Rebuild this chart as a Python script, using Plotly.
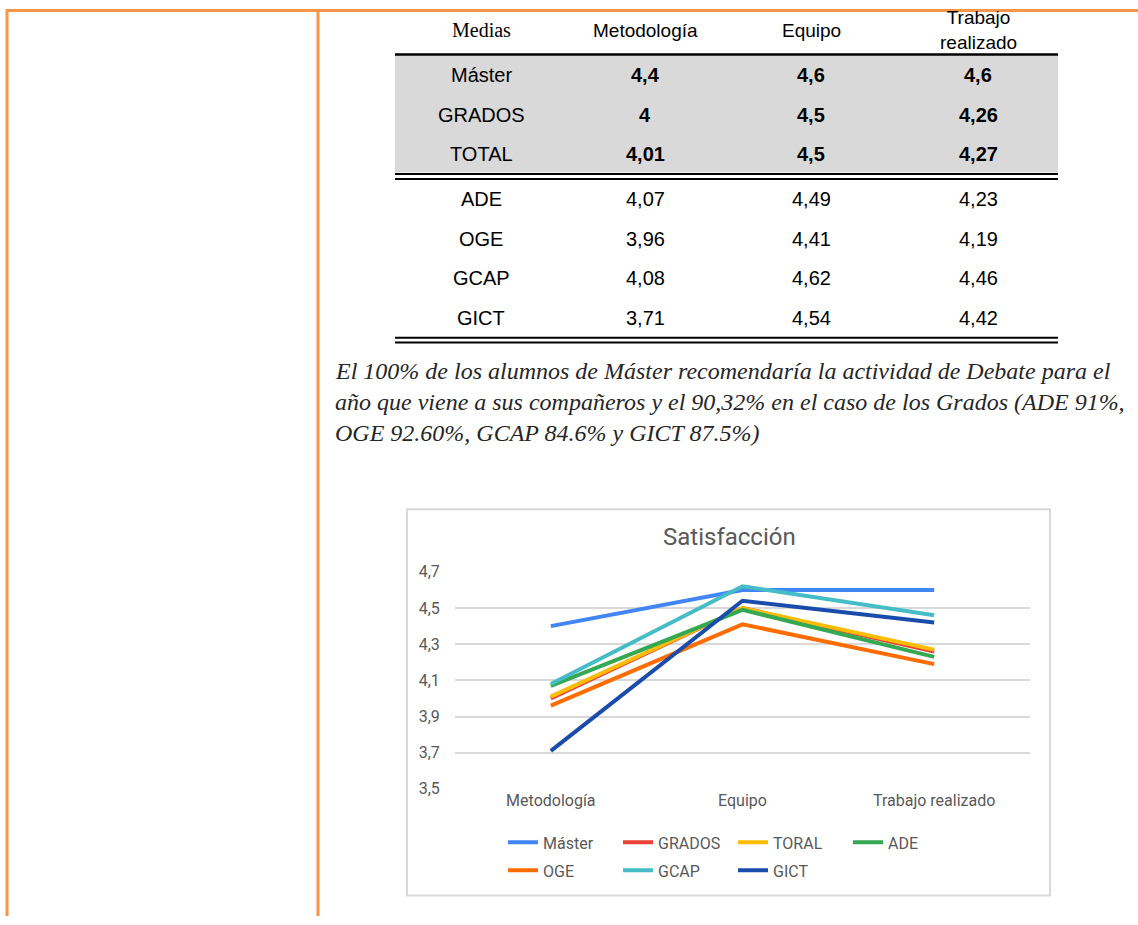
import plotly.graph_objects as go

W, H = 1138, 925

# ---------------- data ----------------
categories = ["Metodología", "Equipo", "Trabajo realizado"]
series_names = ["Máster", "GRADOS", "TORAL", "ADE", "OGE", "GCAP", "GICT"]
master = [4.4, 4.6, 4.6]
grados = [4.0, 4.5, 4.26]
toral = [4.01, 4.5, 4.27]
ade = [4.07, 4.49, 4.23]
oge = [3.96, 4.41, 4.19]
gcap = [4.08, 4.62, 4.46]
gict = [3.71, 4.54, 4.42]
series_values = [master, grados, toral, ade, oge, gcap, gict]
series_colors = ["#4285F4", "#EA4335", "#FBBC04", "#34A853", "#FF6D01", "#46BDC6", "#1A4CAC"]

y_ticks = [3.5, 3.7, 3.9, 4.1, 4.3, 4.5, 4.7]
y_ticktext = ["3,5", "3,7", "3,9", "4,1", "4,3", "4,5", "4,7"]

table_header = ["Medias", "Metodología", "Equipo", "Trabajo<br>realizado"]
summary_labels = ["Máster", "GRADOS", "TOTAL"]
summary_values = [master, grados, toral]
grade_labels = ["ADE", "OGE", "GCAP", "GICT"]
grade_values = [ade, oge, gcap, gict]

paragraph_lines = [
    "El 100% de los alumnos de Máster recomendaría la actividad de Debate para el",
    "año que viene a sus compañeros y el 90,32% en el caso de los Grados (ADE 91%,",
    "OGE 92.60%, GCAP 84.6% y GICT 87.5%)",
]
chart_title = "Satisfacción"

# ---------------- helpers ----------------
def px(x):
    return x / W

def py(y):
    # target picture row -> paper fraction (compensates the photographed page offset)
    yf = (y - 7) / 0.98
    yf = min(max(yf, 0), H)
    return 1 - yf / H

def fmt(v):
    return f"{v:g}".replace(".", ",")

ORANGE = "#F79646"
GRAY_TXT = "#595959"

fig = go.Figure()

# ---------------- chart traces ----------------
for i, (name, vals, col) in enumerate(zip(series_names, series_values, series_colors)):
    fig.add_trace(go.Scatter(
        x=categories, y=vals, name=name, mode="lines",
        line=dict(color=col, width=4),
        legend="legend" if i < 4 else "legend2",
        hoverinfo="skip",
    ))

shapes = []
annotations = []

# page frame (orange)
shapes.append(dict(type="line", xref="paper", yref="paper", x0=px(6), x1=px(W), y0=1 - 1.5 / H, y1=1 - 1.5 / H,
                   line=dict(color=ORANGE, width=3)))
shapes.append(dict(type="line", xref="paper", yref="paper", x0=px(7), x1=px(7), y0=1, y1=0,
                   line=dict(color=ORANGE, width=3)))
shapes.append(dict(type="line", xref="paper", yref="paper", x0=px(318), x1=px(318), y0=1, y1=0,
                   line=dict(color=ORANGE, width=3)))

# ---------------- table ----------------
TX0, TX1 = 395, 1058
col_x = [481, 645, 811, 978]
shapes.append(dict(type="rect", xref="paper", yref="paper", x0=px(TX0), x1=px(TX1), y0=py(53), y1=py(170.5),
                   fillcolor="#D9D9D9", line=dict(width=0), layer="below"))
for yy in [52.5, 172, 177, 335.5, 340.3]:
    shapes.append(dict(type="line", xref="paper", yref="paper", x0=px(TX0), x1=px(TX1), y0=py(yy), y1=py(yy),
                       line=dict(color="black", width=2.5 if yy == 52.5 else 2)))

for j, (t, cx) in enumerate(zip(table_header, col_x)):
    annotations.append(dict(
        text=t, x=px(cx), y=py(28), xref="paper", yref="paper", showarrow=False,
        xanchor="center", yanchor="middle",
        font=dict(family="Liberation Serif" if j == 0 else "Liberation Sans", size=20 if j == 0 else 19, color="black"),
    ))

summary_y0, row_step = 73, 39.5
for r, (lab, vals) in enumerate(zip(summary_labels, summary_values)):
    yy = summary_y0 + r * row_step
    annotations.append(dict(text=lab, x=px(col_x[0]), y=py(yy), xref="paper", yref="paper", showarrow=False,
                            xanchor="center", yanchor="middle",
                            font=dict(family="Liberation Sans", size=20, color="black")))
    for c, v in enumerate(vals):
        annotations.append(dict(text="<b>" + fmt(v) + "</b>", x=px(col_x[c + 1]), y=py(yy), xref="paper", yref="paper",
                                showarrow=False, xanchor="center", yanchor="middle",
                                font=dict(family="Liberation Sans", size=20, color="black")))

grade_y0 = 197
for r, (lab, vals) in enumerate(zip(grade_labels, grade_values)):
    yy = grade_y0 + r * row_step
    annotations.append(dict(text=lab, x=px(col_x[0]), y=py(yy), xref="paper", yref="paper", showarrow=False,
                            xanchor="center", yanchor="middle",
                            font=dict(family="Liberation Sans", size=20, color="black")))
    for c, v in enumerate(vals):
        annotations.append(dict(text=fmt(v), x=px(col_x[c + 1]), y=py(yy), xref="paper", yref="paper",
                                showarrow=False, xanchor="center", yanchor="middle",
                                font=dict(family="Liberation Sans", size=20, color="black")))

# ---------------- paragraph ----------------
for k, line in enumerate(paragraph_lines):
    annotations.append(dict(
        text="<i>" + line + "</i>", x=px(333), y=py(369 + k * 31), xref="paper", yref="paper",
        showarrow=False, xanchor="left", yanchor="middle",
        font=dict(family="Liberation Serif", size=24, color="#262626"),
    ))

# ---------------- chart frame & title ----------------
shapes.append(dict(type="rect", xref="paper", yref="paper", x0=px(407), x1=px(1050), y0=py(507), y1=py(893),
                   line=dict(color="#D9D9D9", width=2), fillcolor="rgba(0,0,0,0)"))
annotations.append(dict(text=chart_title, x=px(729), y=py(535), xref="paper", yref="paper", showarrow=False,
                        xanchor="center", yanchor="middle",
                        font=dict(family="Roboto", size=24, color=GRAY_TXT)))

fig.update_layout(
    width=W, height=H,
    margin=dict(l=0, r=0, t=0, b=0),
    paper_bgcolor="white", plot_bgcolor="rgba(0,0,0,0)",
    separators=",.",
    shapes=shapes, annotations=annotations,
    xaxis=dict(domain=[px(455), px(1030)], range=[-0.5, 2.5], showgrid=False, zeroline=False,
               showline=False, tickfont=dict(family="Roboto", size=16, color=GRAY_TXT),
               ticks="", fixedrange=True),
    yaxis=dict(domain=[py(787), py(569)], range=[3.497, 4.703], tickvals=y_ticks, ticktext=y_ticktext,
               showgrid=True, gridcolor="#D9D9D9", gridwidth=1.5, zeroline=False, showline=False,
               tickfont=dict(family="Roboto", size=16, color=GRAY_TXT),
               ticks="outside", ticklen=11, tickcolor="rgba(0,0,0,0)", fixedrange=True),
    legend=dict(orientation="h", x=px(503), y=py(840), xanchor="left", yanchor="middle",
                entrywidth=70, entrywidthmode="pixels", bgcolor="rgba(0,0,0,0)",
                font=dict(family="Roboto", size=16, color=GRAY_TXT), itemclick=False),
    legend2=dict(orientation="h", x=px(503), y=py(868), xanchor="left", yanchor="middle",
                 entrywidth=70, entrywidthmode="pixels", bgcolor="rgba(0,0,0,0)",
                 font=dict(family="Roboto", size=16, color=GRAY_TXT), itemclick=False),
    showlegend=True,
)

post = (
    "var gd=document.getElementById('{plot_id}');"
    "gd.style.position='fixed';gd.style.top='0px';gd.style.left='0px';"
    "document.body.style.margin='0px';"
    "document.body.style.overflow='hidden';"
    "document.documentElement.style.overflow='hidden';"
)
fig.write_html("out.html", config={"displayModeBar": False}, post_script=post)
